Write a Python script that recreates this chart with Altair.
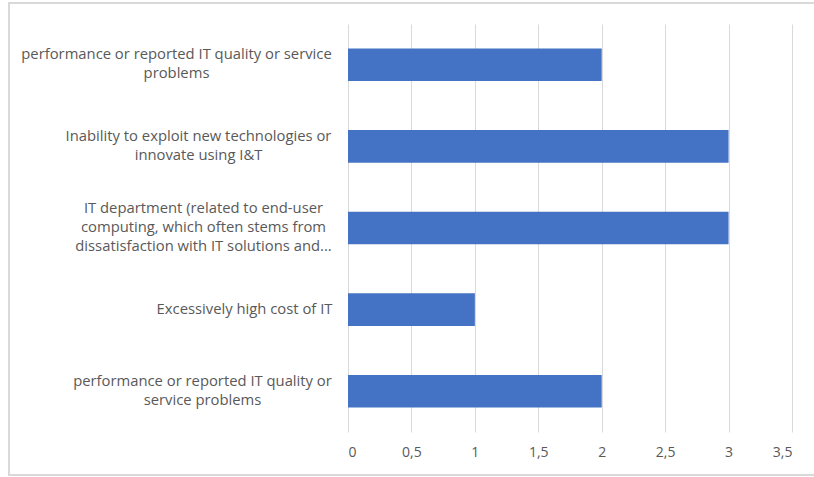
import altair as alt
import pandas as pd

# Category labels, top to bottom; "|" marks where each label wraps
categories = [
    "performance or reported IT quality or service|problems",
    "Inability to exploit new technologies or|innovate using I&T",
    "IT department (related to end-user|computing, which often stems from|dissatisfaction with IT solutions and...",
    "Excessively high cost of IT",
    "performance or reported IT quality or|service problems",
]
values = [2, 3, 3, 1, 2]
x_ticks = [0, 0.5, 1, 1.5, 2, 2.5, 3, 3.5]

df = pd.DataFrame({"category": categories, "value": values})

FONT = "Open Sans"
TEXT_GREY = "#595959"
GRID_GREY = "#D9D9D9"
BAR_BLUE = "#4472C4"
LINE_HEIGHT = 19

# wrapped lines are centred on each other; the padding shifts every block so
# that its widest line ends just left of the plot
half_widths = [157, 135, 130, 89, 131]
pad_expr = "15 + [" + ",".join(str(w) for w in half_widths) + "][indexof([" + ",".join(
    "'" + c.replace("'", "\\'") + "'" for c in categories
) + "], datum.value)]"
# centre each multi-line block vertically on its bar
offset_expr = f"-(length(split(datum.value, '|')) - 1) * {LINE_HEIGHT / 2}"

bars = alt.Chart(df).mark_bar(color=BAR_BLUE).encode(
    x=alt.X(
        "value:Q",
        scale=alt.Scale(domain=[0, 3.5], nice=False),
        axis=alt.Axis(
            values=x_ticks,
            title=None,
            domain=False,
            ticks=False,
            grid=True,
            gridColor=GRID_GREY,
            gridWidth=1,
            labelExpr="replace(format(datum.value, ''), '.', ',')",
            labelPadding=13,
            labelFont=FONT,
            labelFontSize=14,
            labelColor=TEXT_GREY,
        ),
    ),
    y=alt.Y(
        "category:N",
        sort=categories,
        scale=alt.Scale(paddingInner=0.6, paddingOuter=0.3),
        axis=alt.Axis(
            title=None,
            domain=False,
            ticks=False,
            grid=False,
            labelExpr="split(datum.label, '|')",
            labelAlign="center",
            labelBaseline="middle",
            labelPadding={"expr": pad_expr},
            labelOffset={"expr": offset_expr},
            labelLimit=400,
            labelFont=FONT,
            labelFontSize=14.8,
            labelLineHeight=LINE_HEIGHT,
            labelColor=TEXT_GREY,
        ),
    ),
)

# light frame around the whole chart
frame = alt.Chart(alt.Data(values=[{}])).mark_rect(
    fill=None, stroke=GRID_GREY, strokeWidth=2
).encode(
    x=alt.value(-339),
    x2=alt.value(470),
    y=alt.value(-21),
    y2=alt.value(451),
)

chart = alt.layer(bars, frame).properties(
    width=444,
    height=408,
    autosize=alt.AutoSizeParams(type="none"),
    padding={"left": 348, "top": 24, "right": 22, "bottom": 45},
    background="white",
).configure_view(stroke=None)

chart.save("out.html", embed_options={"renderer": "svg", "actions": False})
